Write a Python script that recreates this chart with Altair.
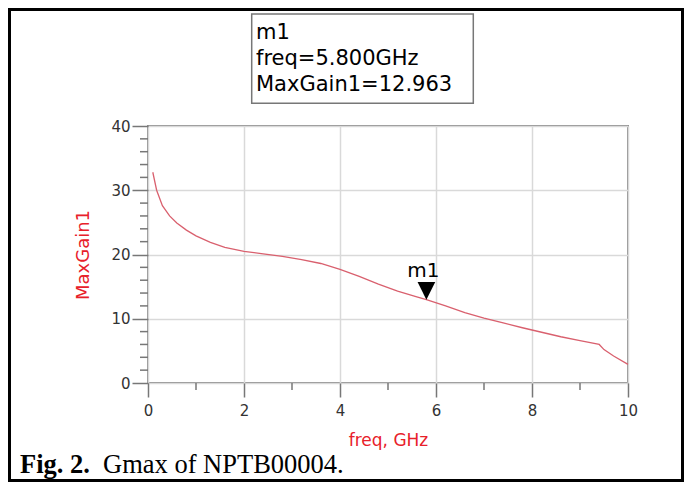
import altair as alt
import pandas as pd

# ---- data ----
freq = [0.1, 0.18, 0.3, 0.45, 0.6, 0.8, 1.0, 1.3, 1.6, 2.0, 2.4, 2.8, 3.2, 3.6, 4.0,
        4.4, 4.8, 5.2, 5.6, 5.8, 6.2, 6.6, 7.0, 7.4, 7.8, 8.2, 8.6, 9.0, 9.4, 9.5,
        9.7, 10.0]
gain = [32.8, 30.0, 27.6, 26.0, 24.9, 23.8, 22.9, 21.9, 21.1, 20.5, 20.1, 19.7, 19.2,
        18.6, 17.7, 16.6, 15.4, 14.3, 13.4, 12.963, 12.0, 10.95, 10.1, 9.35, 8.6,
        7.9, 7.2, 6.6, 6.0, 5.2, 4.2, 2.9]

x_ticks = [0, 2, 4, 6, 8, 10]
y_ticks = [0, 10, 20, 30, 40]
x_minor = [1, 3, 5, 7, 9]
y_minor = [2, 4, 6, 8, 12, 14, 16, 18, 22, 24, 26, 28, 32, 34, 36, 38]

marker_name = ["m1"]
marker_freq = [5.8]
marker_gain = [12.963]
box_lines = ["m1", "freq=5.800GHz", "MaxGain1=12.963"]
caption_bold = "Fig. 2."
caption_rest = "Gmax of NPTB00004."

x_title = "freq, GHz"
y_title = "MaxGain1"

df = pd.DataFrame({"freq": freq, "gain": gain})
mdf = pd.DataFrame({"freq": marker_freq, "gain": marker_gain, "name": marker_name})
one = pd.DataFrame({"k": [0]})

RED = "#e8202a"
FONT = "DejaVu Sans"

xs = alt.Scale(domain=[0, 10], nice=False)
ys = alt.Scale(domain=[0, 40], nice=False)

X = alt.X("freq:Q", scale=xs,
          axis=alt.Axis(values=x_ticks, title=x_title, tickSize=14, labelPadding=6,
                        titlePadding=14, titleFontSize=17, labelFlush=False,
                        format="d"))
Y = alt.Y("gain:Q", scale=ys,
          axis=alt.Axis(values=y_ticks, title=y_title, tickSize=16, labelPadding=2,
                        titlePadding=18, titleFontSize=18, format="d"))

line = alt.Chart(df).mark_line(color="#d9606e", strokeWidth=1.3).encode(x=X, y=Y)

xminor = alt.Chart(pd.DataFrame({"freq": x_minor})).mark_rule(
    color="#777", strokeWidth=1.5).encode(
    x=X, y=alt.value(257), y2=alt.value(264))

yminor = alt.Chart(pd.DataFrame({"gain": y_minor})).mark_rule(
    color="#777", strokeWidth=1.5).encode(
    y=Y, x=alt.value(-8), x2=alt.value(0))

tri = alt.Chart(mdf).mark_point(
    shape="M-1,-1L1,-1L0,1Z", filled=True, color="black", opacity=1,
    size=313, yOffset=-8.8).encode(x=X, y=Y)

tri_label = alt.Chart(mdf).mark_text(
    font=FONT, fontSize=20, color="black", dx=-3, dy=-23,
    baseline="alphabetic", align="center").encode(x=X, y=Y, text="name:N")

box = alt.Chart(one).mark_rect(fill="white", stroke="#777", strokeWidth=1.5).encode(
    x=alt.value(103.7), x2=alt.value(325.3), y=alt.value(-112), y2=alt.value(-22.7))

box_text = alt.Chart(one).mark_text(
    font=FONT, fontSize=21, color="black", align="left", baseline="alphabetic",
    lineHeight=26).encode(
    x=alt.value(108), y=alt.value(-86.7), text=alt.value(box_lines))

border = alt.Chart(one).mark_rect(fillOpacity=0, stroke="black", strokeWidth=3).encode(
    x=alt.value(-138.5), x2=alt.value(534.5), y=alt.value(-116.5), y2=alt.value(354.5))

cap1 = alt.Chart(one).mark_text(
    font="Liberation Serif", fontSize=26.5, fontWeight="bold", color="black",
    align="left", baseline="alphabetic").encode(
    x=alt.value(-128), y=alt.value(347), text=alt.value(caption_bold))

cap2 = alt.Chart(one).mark_text(
    font="Liberation Serif", fontSize=26.5, color="black",
    align="left", baseline="alphabetic").encode(
    x=alt.value(-45), y=alt.value(347), text=alt.value(caption_rest))

chart = alt.layer(
    line, xminor, yminor, tri, tri_label, box, box_text, border, cap1, cap2
).properties(
    width=480, height=257,
    autosize=alt.AutoSizeParams(type="none"),
    padding={"left": 140, "top": 118, "right": 56, "bottom": 99},
    background="white",
).configure_view(
    stroke="#8c8c8c", strokeWidth=2
).configure_axis(
    domain=False, grid=True, gridColor="#d9d9d9", gridWidth=1.5,
    tickColor="#777", tickWidth=1.5,
    labelColor="#333", labelFont=FONT, labelFontSize=15,
    titleColor=RED, titleFont=FONT, titleFontWeight="normal",
)

chart.save("out.html", embed_options={"renderer": "svg", "actions": False})
